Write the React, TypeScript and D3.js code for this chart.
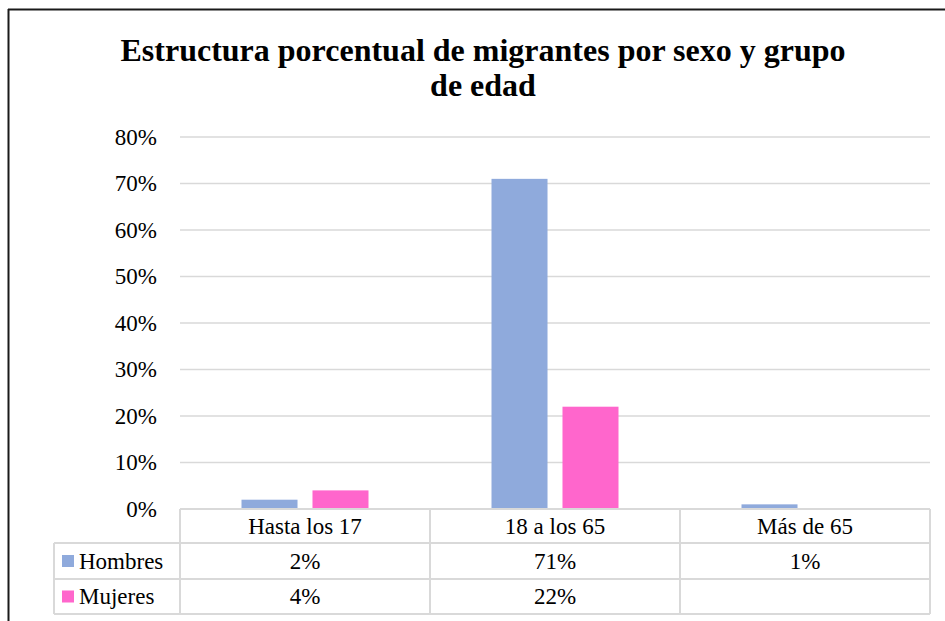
import React from "react";
import * as d3 from "d3";

const categories = ["Hasta los 17", "18 a los 65", "Más de 65"];
const seriesNames = ["Hombres", "Mujeres"];
const hombres: (number | null)[] = [0.02, 0.71, 0.01];
const mujeres: (number | null)[] = [0.04, 0.22, null];
const yTicks = [0, 0.1, 0.2, 0.3, 0.4, 0.5, 0.6, 0.7, 0.8];
const titleLines = ["Estructura porcentual de migrantes por sexo y grupo", "de edad"];

const colors: Record<string, string> = { Hombres: "#8FAADC", Mujeres: "#FF66CC" };
const FONT = "Liberation Serif, Times New Roman, Times, serif";
const GRID = "#D9D9D9";

export default function App() {
  const W = 945, H = 621;
  const plotL = 180, plotR = 930, plotT = 137, plotB = 509;
  const rowH = [509, 543, 579, 614];
  const tableL = 54;
  const FS = 23;

  const x0 = d3.scaleBand<string>().domain(categories).range([plotL, plotR]).padding(0);
  const x1 = d3.scaleBand<string>().domain(seriesNames).range([61.5, 188.5]).paddingInner(0.211).paddingOuter(0);
  const y = d3.scaleLinear().domain([0, 0.8]).range([plotB, plotT]);
  const fmt = d3.format(".0%");

  const seriesData: Record<string, (number | null)[]> = { Hombres: hombres, Mujeres: mujeres };
  const ts: React.CSSProperties = { fontFamily: FONT };

  return (
    <svg width={W} height={H} style={{ position: "absolute", left: 0, top: 0, background: "#fff", fontFamily: FONT }}>
      <rect x={0} y={0} width={W} height={H} fill="#fff" />
      {/* frame */}
      <line x1={8} y1={9.5} x2={W} y2={9.5} stroke="#1a1a1a" strokeWidth={2} />
      <line x1={8.5} y1={9} x2={8.5} y2={H} stroke="#1a1a1a" strokeWidth={2} />

      {/* title */}
      {titleLines.map((t, i) => (
        <text key={i} x={483} y={61 + i * 35} textAnchor="middle" fontSize={32} fontWeight="bold" fill="#000" style={ts}>
          {t}
        </text>
      ))}

      {/* gridlines */}
      {yTicks.filter(t => t > 0).map(t => (
        <line key={t} x1={plotL} x2={plotR} y1={y(t)} y2={y(t)} stroke={GRID} strokeWidth={1.5} />
      ))}
      {/* y labels */}
      {yTicks.map(t => (
        <text key={t} x={157} y={y(t)} dy="0.33em" textAnchor="end" fontSize={FS} fill="#000" style={ts}>
          {fmt(t)}
        </text>
      ))}

      {/* bars */}
      {seriesNames.map(s =>
        categories.map((c, i) => {
          const v = seriesData[s][i];
          if (v == null) return null;
          const bx = (x0(c) as number) + (x1(s) as number);
          return (
            <rect key={s + c} x={bx} y={y(v)} width={x1.bandwidth()} height={plotB - y(v)} fill={colors[s]} />
          );
        })
      )}

      {/* table lines */}
      <line x1={plotL} x2={plotR} y1={rowH[0]} y2={rowH[0]} stroke={GRID} strokeWidth={2} />
      {rowH.slice(1).map((r, i) => (
        <line key={i} x1={tableL} x2={plotR} y1={r} y2={r} stroke={GRID} strokeWidth={2} />
      ))}
      <line x1={tableL} x2={tableL} y1={rowH[1]} y2={rowH[3]} stroke={GRID} strokeWidth={2} />
      {[...categories.map(c => x0(c) as number), plotR].map((xv, i) => (
        <line key={i} x1={xv} x2={xv} y1={rowH[0]} y2={rowH[3]} stroke={GRID} strokeWidth={2} />
      ))}

      {/* category labels */}
      {categories.map(c => (
        <text key={c} x={(x0(c) as number) + x0.bandwidth() / 2} y={(rowH[0] + rowH[1]) / 2} dy="0.33em" textAnchor="middle" fontSize={FS} fill="#000" style={ts}>
          {c}
        </text>
      ))}

      {/* series rows */}
      {seriesNames.map((s, si) => {
        const cy = (rowH[si + 1] + rowH[si + 2]) / 2;
        return (
          <g key={s}>
            <rect x={62} y={cy - 6} width={12} height={12} fill={colors[s]} />
            <text x={79} y={cy} dy="0.33em" fontSize={FS} fill="#000" style={ts}>{s}</text>
            {categories.map((c, i) => {
              const v = seriesData[s][i];
              if (v == null) return null;
              return (
                <text key={c} x={(x0(c) as number) + x0.bandwidth() / 2} y={cy} dy="0.33em" textAnchor="middle" fontSize={FS} fill="#000" style={ts}>
                  {fmt(v)}
                </text>
              );
            })}
          </g>
        );
      })}
    </svg>
  );
}
